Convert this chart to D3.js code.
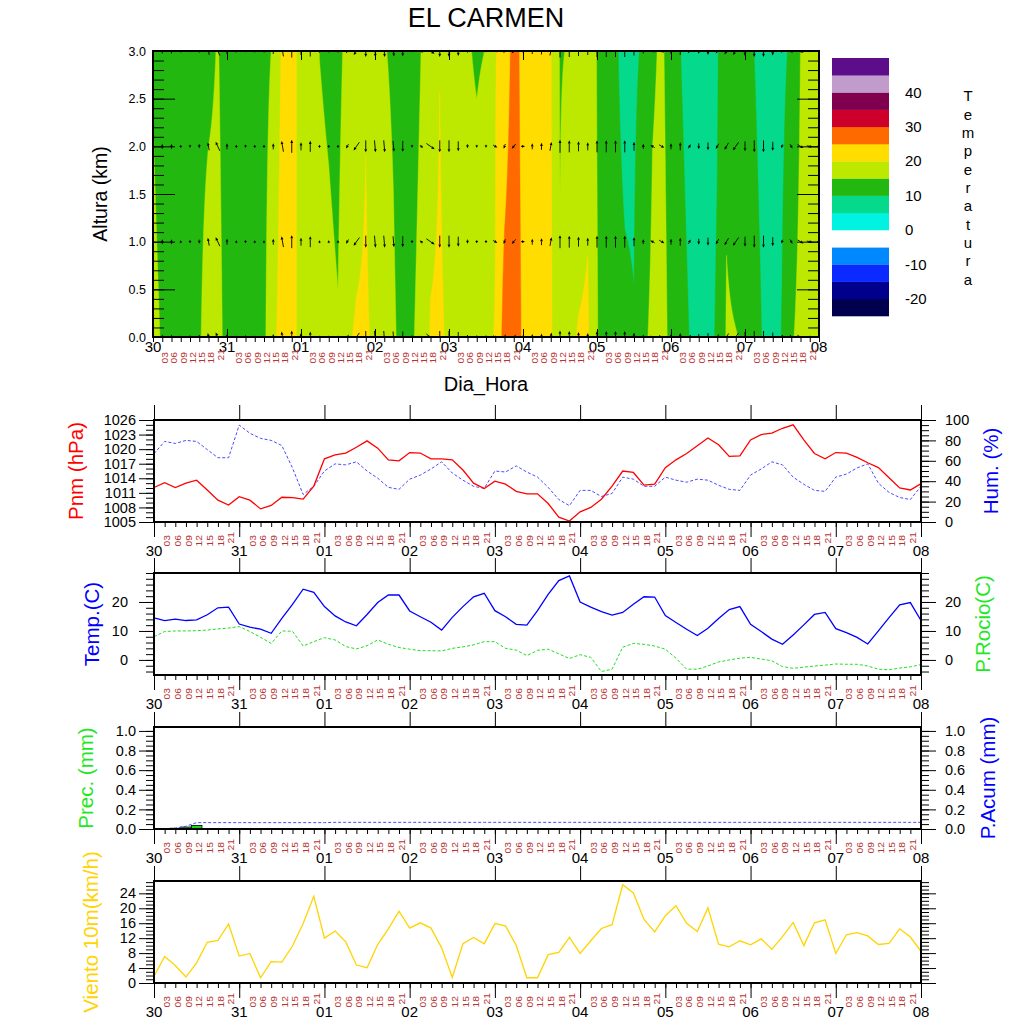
<!DOCTYPE html>
<html>
<head>
<meta charset="utf-8">
<title>EL CARMEN</title>
<script src="https://cdn.jsdelivr.net/npm/d3@7/dist/d3.min.js"></script>
<style>
html,body{margin:0;padding:0;background:#fff;}
svg{display:block;}
</style>
</head>
<body>
<svg id="chart" width="1024" height="1024"></svg>
<script>
// ---------------- DATA (3-hourly, 30 00h .. 08 00h) ----------------
const dayLabels = ["30","31","01","02","03","04","05","06","07","08"];
const hourLabels = ["03","06","09","12","15","18","21"];

// Time–height cross-section: temperature (C) at 0 km and at 3 km
const tempSfc = [16.5,14.5,13.5,13,13.5,14.6,16.6,16,14,12,
  11,11.5,14.2,18.3,23,22,18,17,16.5,16.05,
  15.3,19.4,20.5,20.6,19.1,17,15.5,13.8,14.5,16.5,
  20.4,20.6,19.4,18,17,17.5,19.6,20.1,27.1,28,
  24.2,22,21.5,20.8,15.3,19.1,20.3,20.6,15.3,12,
  11,10.6,10.15,14,16,16.3,14.1,12,9.9,8,
  8.5,10.6,15.4,15.1,14.7,12,9.5,8,10.2,14.5,
  16.2,17,16];
const temp3km = [14.5,12.5,12.5,13,13.5,14,14.2,15.2,13.5,12,
  11,11.5,14,15.3,21,20.5,19.5,17,14.95,14.3,
  13.5,16.5,17,19.65,17,15.2,14.5,12.5,13,15.05,
  17.5,19.9,17.5,16.5,15.4,14.5,15.1,19.8,21.5,27,
  23.5,22,21.5,20.3,14.7,15.3,16.5,18.5,14.8,12.5,
  10.4,9,9.3,10.5,14.5,15.5,13.5,10.1,8,7,
  7.5,9.5,14,12,11.5,9.95,8,7.5,9,10.7,
  15.05,16,16.5];
// wind vectors drawn in the cross-section: direction the arrow points (deg, clockwise from up) and magnitude
const vecDir = [0,0,0,0,180,180,350,335,0,0,
  180,0,0,0,350,0,0,0,0,0,
  0,210,215,180,175,175,175,180,180,310,
  125,180,180,180,180,180,180,120,200,220,
  90,0,0,10,0,0,0,0,0,0,
  0,0,0,0,300,120,0,0,30,180,
  180,210,210,215,180,180,180,180,200,150,
  120,100,90];
const vecMag = [2,5,5,3,3,4,8,10,6,3,
  3,3,3,6,11,13,8,11,3,3,
  3,5,10,12,12,12,11,11,3,4,
  10,12,12,10,4,3,3,5,5,6,
  4,6,7,9,13,12,10,8,12,12,
  12,12,9,5,5,6,6,8,5,6,
  8,6,8,10,10,12,12,9,4,5,
  7,6,4];
const vecHeights = [0,1,2,3];

// colour bar
const cbLevels = [-20,-15,-10,-5,0,5,10,15,20,25,30,35,40,45];
const cbColors = ["#00004e","#00008c","#0a2aff","#0088ff","#ffffff","#00f2e0","#05d98b","#23b80f","#bde800","#ffdd00","#ff6a00","#cc002b","#80004f","#c19bcc","#5d0d8a"];
const cbLabels = [-20,-10,0,10,20,30,40];

// Surface series
const pnm = [1012.1,1013.1,1012.1,1013.0,1013.6,1011.6,1009.5,1008.5,1010.2,1009.5,
  1007.7,1008.4,1010.1,1010.0,1009.7,1012.4,1018.0,1018.8,1019.2,1020.4,
  1021.7,1020.2,1017.8,1017.6,1019.3,1019.2,1018.0,1018.0,1017.8,1015.7,
  1013.0,1011.9,1013.4,1012.8,1011.3,1010.8,1010.8,1008.8,1006.0,1005.2,
  1007.1,1008.0,1009.7,1012.4,1015.5,1015.2,1012.6,1012.8,1016.2,1017.8,
  1019.1,1020.7,1022.3,1020.9,1018.5,1018.6,1021.9,1023.0,1023.3,1024.3,
  1025.0,1021.9,1019.1,1018.0,1019.3,1019.2,1018.3,1017.2,1016.2,1014.1,
  1012.0,1011.6,1012.9];
const hum = [67,79,77,80,79,71,63,63,95,87,
  82,80,75,53,27,35,50,57,56,59,
  50,43,34,32,42,46,52,59,48,41,
  35,33,50,49,55,49,44,34,22,16,
  31,31,25,28,44,42,35,35,44,41,
  39,42,41,36,32,31,46,52,59,56,
  44,37,31,30,44,47,53,57,38,29,
  24,22,35];
const temp = [14.5,13.6,14.1,13.6,13.8,15.6,18.0,18.2,12.4,11.3,
  10.6,9.2,14.3,19.2,24.4,23.3,18.4,15.2,13.1,11.8,
  15.7,19.8,22.4,22.4,16.9,14.9,13.0,10.3,14.7,18.4,
  21.8,23.0,17.0,14.9,12.3,12.0,17.0,22.6,27.4,29.0,
  20.0,18.2,16.7,15.5,16.4,19.2,21.8,21.7,15.3,12.9,
  10.6,8.4,10.9,14.3,17.4,18.4,12.3,9.8,7.2,5.4,
  8.6,12.1,15.7,16.4,10.8,9.4,7.8,5.5,10.0,14.6,
  19.0,19.8,13.6];
const dew = [8.0,9.8,10.0,10.0,10.1,10.3,10.7,11.0,11.5,9.8,
  7.8,5.7,10.0,9.9,4.8,6.3,7.7,6.9,4.6,3.8,
  4.9,6.9,5.4,4.3,3.7,3.2,3.2,3.1,4.0,4.5,
  5.2,6.3,6.3,4.0,3.4,1.5,3.3,3.7,2.1,0.5,
  1.8,0.9,-4.0,-3.2,4.4,5.7,5.4,4.8,3.7,0.6,
  -3.2,-3.2,-2.1,-0.7,0.0,0.6,0.9,0.3,-0.3,-2.3,
  -2.9,-2.5,-2.1,-1.8,-1.4,-1.5,-1.5,-2.1,-3.2,-3.4,
  -2.8,-2.4,-1.6];
const prec = [0,0,0.008,0.02,0.037,0,0,0,0,0,
  0,0,0,0,0,0,0,0.003,0,0,
  0,0,0,0,0,0,0,0,0,0,
  0,0,0,0,0,0,0,0,0,0,
  0,0,0,0,0,0,0,0,0,0,
  0,0,0,0,0,0,0,0,0,0,
  0,0,0,0,0,0,0,0,0,0,
  0,0,0];
const pacum = [0,0,0.008,0.028,0.065,0.065,0.065,0.065,0.065,0.065,
  0.065,0.065,0.065,0.065,0.065,0.065,0.065,0.068,0.068,0.068,
  0.068,0.068,0.068,0.068,0.068,0.068,0.068,0.068,0.068,0.068,
  0.068,0.068,0.068,0.068,0.068,0.068,0.068,0.068,0.068,0.068,
  0.068,0.068,0.068,0.068,0.068,0.068,0.068,0.068,0.068,0.068,
  0.068,0.068,0.068,0.068,0.068,0.068,0.068,0.068,0.068,0.068,
  0.068,0.068,0.068,0.068,0.068,0.068,0.068,0.068,0.068,0.068,
  0.068,0.068,0.068];
const wind = [1.8,7.1,4.7,1.6,5.4,10.9,11.4,15.8,7.2,7.9,
  1.4,5.7,5.6,9.9,15.9,23.2,12.0,13.9,11.0,4.8,
  4.1,10.3,14.5,19.2,14.7,16.1,14.7,9.4,1.5,10.5,
  12.2,10.5,15.9,15.3,10.1,1.4,1.4,7.6,8.2,12.2,
  7.9,11.3,14.6,15.6,26.3,24.1,17.0,13.7,18.0,20.7,
  16.0,13.8,20.1,10.4,9.7,11.3,10.2,11.8,9.0,12.4,
  16.2,10.0,16.1,16.9,7.9,12.9,13.5,12.6,10.3,10.6,
  14.5,12.3,8.5];

// ---------------- DRAWING ----------------
const FONT = "'Liberation Sans', Arial, Helvetica, sans-serif";
const HOURCOL = "#b83232";
const svg = d3.select("#chart").attr("font-family", FONT);
const N = pnm.length;
const idx = d3.range(N);
const dayIdx = idx.filter(k => k % 8 === 0);
const hourIdx = idx.filter(k => k % 8 !== 0);

function styleAxis(sel, size) {
  sel.select(".domain").remove();
  sel.attr("font-family", FONT).attr("font-size", size || 14.5);
  sel.selectAll(".tick line").attr("stroke", "#000").attr("stroke-width", 1);
  sel.selectAll(".tick text").attr("fill", "#000");
  return sel;
}

function timeLabels(g, x, dayY, hourY) {
  g.append("g").selectAll("text").data(dayIdx).join("text")
    .attr("x", k => x(k)).attr("y", dayY)
    .attr("text-anchor", "middle").attr("font-size", 15).attr("fill", "#000")
    .text((k, i) => dayLabels[i]);
  g.append("g").selectAll("text").data(hourIdx).join("text")
    .attr("transform", k => `translate(${x(k)},${hourY - (k % 8 === 7 ? 3 : 0)}) rotate(-90)`)
    .attr("text-anchor", "end").attr("dy", "0.68em")
    .attr("font-size", 8.5).attr("fill", HOURCOL)
    .attr("textLength", 11.5).attr("lengthAdjust", "spacingAndGlyphs")
    .text(k => hourLabels[(k % 8) - 1]);
}

// Title
svg.append("text").attr("x", 486).attr("y", 27).attr("text-anchor", "middle")
  .attr("font-size", 27).text("EL CARMEN");

// ---------- Top cross-section panel ----------
const TL = 153, TR = 819, TT = 51, TB = 337;
const xT = d3.scaleLinear().domain([0, N - 1]).range([TL, TR]);
const yA = d3.scaleLinear().domain([0, 3]).range([TB, TT]);
const defs = svg.append("defs");
defs.append("clipPath").attr("id", "clipTop").append("rect")
  .attr("x", TL).attr("y", TT).attr("width", TR - TL).attr("height", TB - TT);

const NY = 31;
const grid = new Array(N * NY);
for (let j = 0; j < NY; j++) {
  const h = 3 - j * 3 / (NY - 1);
  for (let i = 0; i < N; i++) grid[j * N + i] = tempSfc[i] + (temp3km[i] - tempSfc[i]) * h / 3;
}
const contours = d3.contours().size([N, NY]).thresholds(cbLevels)(grid);
const proj = d3.geoTransform({
  point: function (gx, gy) {
    this.stream.point(xT(gx - 0.5), yA(3 - (gy - 0.5) * 3 / (NY - 1)));
  }
});
const cpath = d3.geoPath(proj);
const topG = svg.append("g");
const fillG = topG.append("g").attr("clip-path", "url(#clipTop)");
fillG.selectAll("path").data(contours).join("path")
  .attr("d", cpath)
  .attr("fill", d => cbColors[cbLevels.indexOf(d.value) + 1])
  .attr("stroke", d => cbColors[cbLevels.indexOf(d.value) + 1]).attr("stroke-width", 0.4);

// vectors
const magScale = d3.scaleLinear().domain([0, 13]).range([0, 13]);
const vecG = topG.append("g").attr("clip-path", "url(#clipTop)");
vecHeights.forEach(h => {
  idx.forEach(k => {
    const L = magScale(vecMag[k]);
    const a = vecDir[k] * Math.PI / 180;
    const ux = Math.sin(a), uy = -Math.cos(a);
    const cx = xT(k), cy = yA(h);
    const tx = cx + ux * L / 2, ty = cy + uy * L / 2;
    const sx = cx - ux * L / 2, sy = cy - uy * L / 2;
    const hl = Math.min(3.2, L * 0.75), hw = 1.4;
    const bx = tx - ux * hl, by = ty - uy * hl;
    const px = -uy, py = ux;
    vecG.append("line").attr("x1", sx).attr("y1", sy).attr("x2", bx).attr("y2", by)
      .attr("stroke", "#000").attr("stroke-width", 0.9);
    vecG.append("path")
      .attr("d", `M${tx},${ty}L${bx + px * hw},${by + py * hw}L${bx - px * hw},${by - py * hw}Z`)
      .attr("fill", "#000");
  });
});

// top panel axes
styleAxis(topG.append("g").attr("transform", `translate(${TL},0)`)
  .call(d3.axisLeft(yA).tickValues(d3.range(0, 31).map(d => d / 10)).tickSizeInner(-11).tickSizeOuter(0).tickFormat("")));
styleAxis(topG.append("g").attr("transform", `translate(${TL},0)`)
  .call(d3.axisLeft(yA).tickValues(d3.range(0, 7).map(d => d / 2)).tickSizeInner(-22).tickSizeOuter(0).tickPadding(7).tickFormat(d3.format(".1f"))), 12.5);
styleAxis(topG.append("g").attr("transform", `translate(${TR},0)`)
  .call(d3.axisRight(yA).tickValues(d3.range(0, 31).map(d => d / 10)).tickSizeInner(-11).tickSizeOuter(0).tickFormat("")));
styleAxis(topG.append("g").attr("transform", `translate(${TR},0)`)
  .call(d3.axisRight(yA).tickValues(d3.range(0, 7).map(d => d / 2)).tickSizeInner(-22).tickSizeOuter(0).tickFormat("")));
styleAxis(topG.append("g").attr("transform", `translate(0,${TB})`)
  .call(d3.axisBottom(xT).tickValues(idx).tickSizeInner(5).tickSizeOuter(0).tickFormat("")));
styleAxis(topG.append("g").attr("transform", `translate(0,${TB})`)
  .call(d3.axisBottom(xT).tickValues(dayIdx).tickSizeInner(-8).tickSizeOuter(0).tickFormat("")));
styleAxis(topG.append("g").attr("transform", `translate(0,${TT})`)
  .call(d3.axisTop(xT).tickValues(dayIdx).tickSizeInner(-9).tickSizeOuter(0).tickFormat("")));
topG.append("rect").attr("x", TL).attr("y", TT).attr("width", TR - TL).attr("height", TB - TT)
  .attr("fill", "none").attr("stroke", "#000").attr("stroke-width", 2);
timeLabels(topG, xT, 352, 352);

svg.append("text").attr("transform", "translate(100,194) rotate(-90)")
  .attr("text-anchor", "middle").attr("dy", "0.35em").attr("font-size", 19.5).text("Altura (km)");
svg.append("text").attr("x", 486).attr("y", 391).attr("text-anchor", "middle")
  .attr("font-size", 20).text("Dia_Hora");

// colour bar
const yCb = d3.scaleLinear().domain([-25, 50]).range([316, 58]);
const cbG = svg.append("g");
cbG.selectAll("rect").data(cbColors).join("rect")
  .attr("x", 832).attr("width", 57)
  .attr("y", (c, i) => yCb(-20 + 5 * i))
  .attr("height", (c, i) => yCb(-25 + 5 * i) - yCb(-20 + 5 * i) + 0.3)
  .attr("fill", c => c);
cbG.selectAll("text.cbl").data(cbLabels).join("text").attr("class", "cbl")
  .attr("x", 905).attr("y", d => yCb(d)).attr("dy", "0.35em")
  .attr("font-size", 15).text(d => d);
cbG.selectAll("text.ttl").data("Temperatura".split("")).join("text").attr("class", "ttl")
  .attr("x", 968).attr("y", (c, i) => 96 + i * 18.35).attr("dy", "0.35em")
  .attr("text-anchor", "middle").attr("font-size", 15).text(c => c);

// ---------- Lower panels ----------
const LL = 154, LR = 921;
const xL = d3.scaleLinear().domain([0, N - 1]).range([LL, LR]);
const step = xL(1) - xL(0);

function sideTitle(x, yc, text, color) {
  svg.append("text").attr("transform", `translate(${x},${yc}) rotate(-90)`)
    .attr("text-anchor", "middle").attr("dy", "0.35em").attr("font-size", 20.5)
    .attr("fill", color).text(text);
}

function panel(p) {
  const g = svg.append("g");
  styleAxis(g.append("g").attr("transform", `translate(${LL},0)`)
    .call(d3.axisLeft(p.yL).tickValues(p.lMinor).tickSizeInner(8).tickSizeOuter(0).tickFormat("")));
  styleAxis(g.append("g").attr("transform", `translate(${LL},0)`)
    .call(d3.axisLeft(p.yL).tickValues(p.lMajor).tickSizeInner(15).tickSizeOuter(0).tickPadding(p.lPad).tickFormat(p.lFmt)));
  styleAxis(g.append("g").attr("transform", `translate(${LR},0)`)
    .call(d3.axisRight(p.yR).tickValues(p.rMinor).tickSizeInner(8).tickSizeOuter(0).tickFormat("")));
  styleAxis(g.append("g").attr("transform", `translate(${LR},0)`)
    .call(d3.axisRight(p.yR).tickValues(p.rMajor).tickSizeInner(15).tickSizeOuter(0).tickPadding(9).tickFormat(p.rFmt || "")));
  styleAxis(g.append("g").attr("transform", `translate(0,${p.top})`)
    .call(d3.axisTop(xL).tickValues(dayIdx).tickSizeInner(15).tickSizeOuter(0).tickFormat("")));
  styleAxis(g.append("g").attr("transform", `translate(0,${p.bottom})`)
    .call(d3.axisBottom(xL).tickValues(idx).tickSizeInner(5).tickSizeOuter(0).tickFormat("")));
  styleAxis(g.append("g").attr("transform", `translate(0,${p.bottom})`)
    .call(d3.axisBottom(xL).tickValues(dayIdx).tickSizeInner(15).tickSizeOuter(0).tickFormat("")));
  p.draw(g);
  g.append("rect").attr("x", LL).attr("y", p.top).attr("width", LR - LL).attr("height", p.bottom - p.top)
    .attr("fill", "none").attr("stroke", "#000").attr("stroke-width", 2);
  timeLabels(g, xL, p.bottom + 34, p.bottom + 13);
}

// Panel 1: pressure & humidity
const yP = d3.scaleLinear().domain([1005, 1026]).range([522, 420]);
const yH = d3.scaleLinear().domain([0, 100]).range([522, 420]);
panel({
  top: 420, bottom: 522, yL: yP, yR: yH,
  lMinor: d3.range(1005, 1027), lMajor: d3.range(1005, 1027, 3), lFmt: d3.format("d"), lPad: 3,
  rMinor: d3.range(0, 101, 5), rMajor: d3.range(0, 101, 20), rFmt: d3.format("d"),
  draw: g => {
    g.append("path").datum(hum).attr("fill", "none").attr("stroke", "#4a4aff").attr("stroke-width", 1)
      .attr("stroke-dasharray", "3,2").attr("d", d3.line().x((d, i) => xL(i)).y(d => yH(d)));
    g.append("path").datum(pnm).attr("fill", "none").attr("stroke", "#ff0000").attr("stroke-width", 1.3)
      .attr("d", d3.line().x((d, i) => xL(i)).y(d => yP(d)));
  }
});
sideTitle(76, 471, "Pnm (hPa)", "#ff0000");
sideTitle(991, 471, "Hum. (%)", "#0000ff");

// Panel 2: temperature & dew point
const yT = d3.scaleLinear().domain([-5.2, 30]).range([675, 573]);
panel({
  top: 573, bottom: 675, yL: yT, yR: yT,
  lMinor: d3.range(-4, 31, 2), lMajor: [0, 10, 20], lFmt: d3.format("d"), lPad: 11,
  rMinor: d3.range(-4, 31, 2), rMajor: [0, 10, 20], rFmt: d3.format("d"),
  draw: g => {
    g.append("path").datum(dew).attr("fill", "none").attr("stroke", "#22dd22").attr("stroke-width", 1)
      .attr("stroke-dasharray", "3,2").attr("d", d3.line().x((d, i) => xL(i)).y(d => yT(d)));
    g.append("path").datum(temp).attr("fill", "none").attr("stroke", "#0000ff").attr("stroke-width", 1.3)
      .attr("d", d3.line().x((d, i) => xL(i)).y(d => yT(d)));
  }
});
sideTitle(92, 624, "Temp.(C)", "#0000ff");
sideTitle(983, 624, "P.Rocio(C)", "#1ee81e");

// Panel 3: precipitation
const yR = d3.scaleLinear().domain([0, 1.04]).range([829, 727]);
panel({
  top: 727, bottom: 829, yL: yR, yR: yR,
  lMinor: d3.range(0, 21).map(d => d / 20), lMajor: d3.range(0, 6).map(d => d / 5), lFmt: d3.format(".1f"), lPad: 3,
  rMinor: d3.range(0, 21).map(d => d / 20), rMajor: d3.range(0, 6).map(d => d / 5), rFmt: d3.format(".1f"),
  draw: g => {
    g.append("g").selectAll("rect").data(prec.map((v, i) => ({ v, i })).filter(d => d.v > 0)).join("rect")
      .attr("x", d => xL(d.i) - step / 2).attr("width", step)
      .attr("y", d => yR(d.v)).attr("height", d => yR(0) - yR(d.v))
      .attr("fill", "#1ed21e").attr("stroke", "#000").attr("stroke-width", 0.8);
    g.append("path").datum(pacum).attr("fill", "none").attr("stroke", "#4a4aff").attr("stroke-width", 1)
      .attr("stroke-dasharray", "3,2").attr("d", d3.line().x((d, i) => xL(i)).y(d => yR(d)));
  }
});
sideTitle(86, 778, "Prec. (mm)", "#1ee81e");
sideTitle(988, 778, "P.Acum (mm)", "#0000ff");

// Panel 4: wind 10 m
const yW = d3.scaleLinear().domain([0, 27.3]).range([983, 881]);
panel({
  top: 881, bottom: 983, yL: yW, yR: yW,
  lMinor: d3.range(0, 28), lMajor: d3.range(0, 25, 4), lFmt: d3.format("d"), lPad: 3,
  rMinor: d3.range(0, 28), rMajor: d3.range(0, 25, 4), rFmt: null,
  draw: g => {
    g.append("path").datum(wind).attr("fill", "none").attr("stroke", "#ffd400").attr("stroke-width", 1.3)
      .attr("d", d3.line().x((d, i) => xL(i)).y(d => yW(d)));
  }
});
sideTitle(91, 932, "Viento 10m(km/h)", "#ffd400");
</script>
</body>
</html>
